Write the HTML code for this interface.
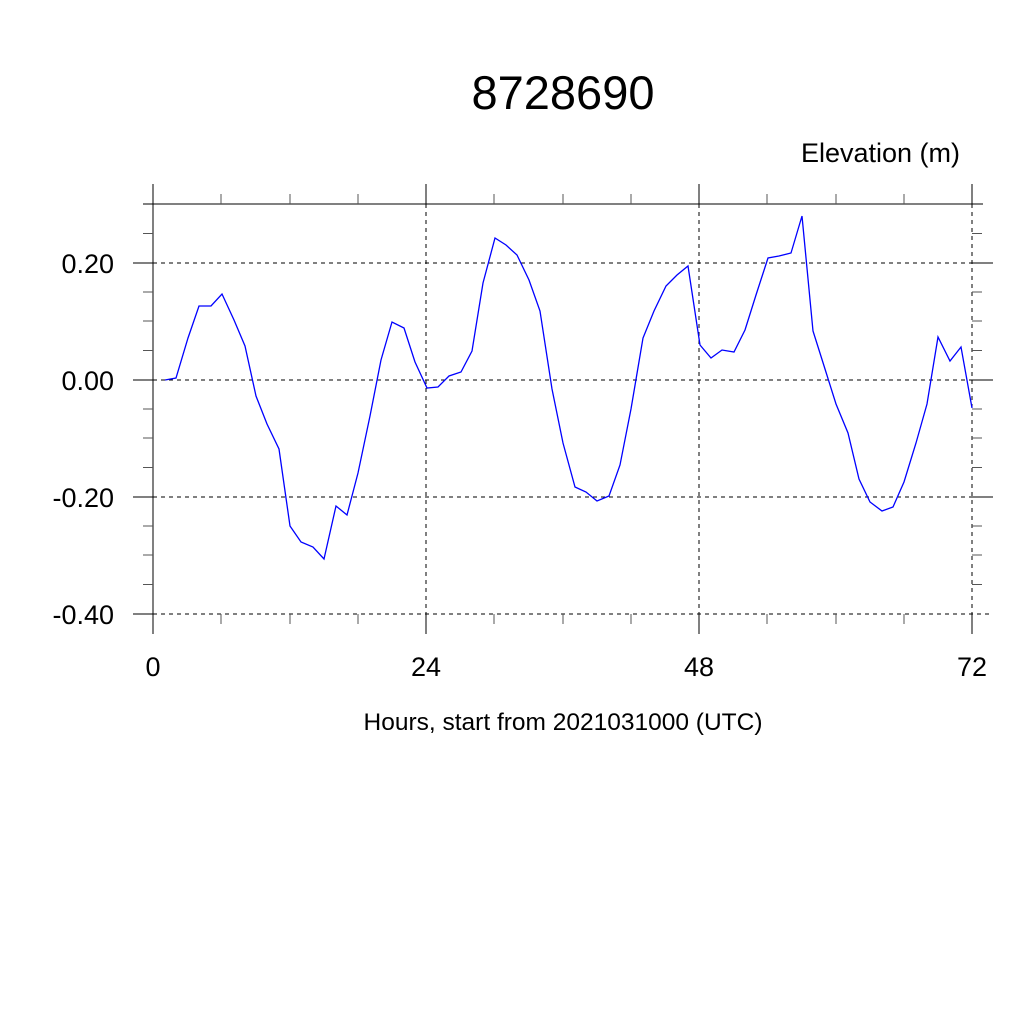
<!DOCTYPE html>
<html><head><meta charset="utf-8"><style>html,body{margin:0;padding:0;background:#fff}svg{display:block}</style></head>
<body>
<svg width="1024" height="1024" xmlns="http://www.w3.org/2000/svg" font-family="Liberation Sans, sans-serif">
<rect width="1024" height="1024" fill="#fff"/>
<text x="563" y="109" font-size="47" text-anchor="middle">8728690</text>
<text x="960" y="162" font-size="27" text-anchor="end">Elevation (m)</text>
<g stroke="#000" stroke-width="1" fill="none">
<g stroke-dasharray="4,4">
<line x1="153" y1="263" x2="993" y2="263"/>
<line x1="153" y1="380" x2="993" y2="380"/>
<line x1="153" y1="497" x2="993" y2="497"/>
<line x1="153" y1="614" x2="993" y2="614"/>
<line x1="426" y1="204" x2="426" y2="634"/>
<line x1="699" y1="204" x2="699" y2="634"/>
<line x1="972" y1="204" x2="972" y2="634"/>
</g>
<line x1="153" y1="184" x2="153" y2="634"/>
<line x1="143" y1="204" x2="983" y2="204"/>
<line x1="426" y1="184" x2="426" y2="204"/><line x1="699" y1="184" x2="699" y2="204"/><line x1="972" y1="184" x2="972" y2="204"/>
<line x1="133" y1="263" x2="153" y2="263"/><line x1="133" y1="380" x2="153" y2="380"/><line x1="133" y1="497" x2="153" y2="497"/><line x1="133" y1="614" x2="153" y2="614"/>
<line x1="972" y1="263" x2="993" y2="263"/><line x1="972" y1="380" x2="993" y2="380"/><line x1="972" y1="497" x2="993" y2="497"/>
<line x1="426" y1="614" x2="426" y2="634"/><line x1="699" y1="614" x2="699" y2="634"/><line x1="972" y1="614" x2="972" y2="634"/>
<g stroke="#555">
<path d="M221,194V204M290,194V204M358,194V204M494,194V204M563,194V204M631,194V204M767,194V204M836,194V204M904,194V204"/>
<path d="M221,614V624M290,614V624M358,614V624M494,614V624M563,614V624M631,614V624M767,614V624M836,614V624M904,614V624"/>
<path d="M143,233.5H153M143,292H153M143,321H153M143,350.5H153M143,409H153M143,438H153M143,467.5H153M143,526H153M143,555H153M143,584.5H153"/>
<path d="M972,233.5H982M972,292H982M972,321H982M972,350.5H982M972,409H982M972,438H982M972,467.5H982M972,526H982M972,555H982M972,584.5H982"/>
</g>
</g>
<polyline fill="none" stroke="#0000ff" stroke-width="1.3" points="165,380 176,378 188,338 199,306 211,306 222,294 234,320 245,346 256,396 267,424 279,449 290,526 301,542 313,547 324,559 336,506 347,515 358,473 370,416 381,360 392,322 404,328 415,362 427,388 438,387 449,376 461,372 472,351 483,283 495,238 506,245 517,255 529,280 540,311 552,389 563,443 575,487 586,492 597,501 609,496 620,465 631,409 643,338 654,311 666,286 677,275 688,266 700,345 711,358 722,350 734,352 745,330 756,295 768,258 779,256 791,253 802,216 813,331 825,369 836,404 848,433 859,479 870,502 882,511 893,507 904,482 916,443 927,404 938,337 950,361 961,347 972,408"/>
<g font-size="27" text-anchor="end">
<text x="114" y="273">0.20</text>
<text x="114" y="390">0.00</text>
<text x="114" y="507">-0.20</text>
<text x="114" y="624">-0.40</text>
</g>
<g font-size="27" text-anchor="middle">
<text x="153" y="676">0</text>
<text x="426" y="676">24</text>
<text x="699" y="676">48</text>
<text x="972" y="676">72</text>
</g>
<text x="563" y="730" font-size="24.5" text-anchor="middle">Hours, start from 2021031000 (UTC)</text>
</svg>
</body></html>
